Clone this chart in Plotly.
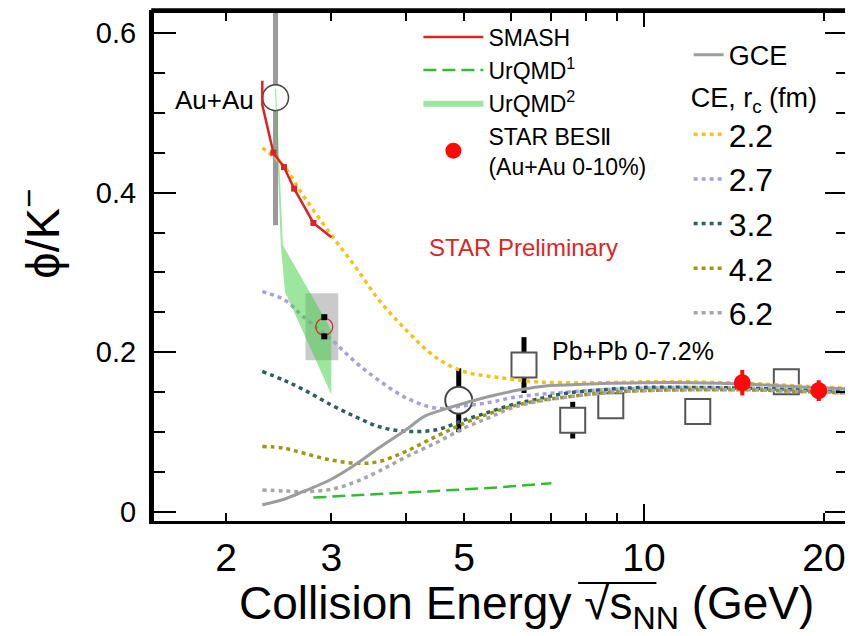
import plotly.graph_objects as go

FONT = "Liberation Sans, Arial, Helvetica, sans-serif"

# ---------------- data ----------------
# SMASH
smash_x = [2.3, 2.3, 2.4, 2.5, 2.6, 2.8, 3.0]
smash_y = [0.54, 0.51, 0.45, 0.432, 0.405, 0.362, 0.344]
smash_mark_x = [2.4, 2.5, 2.6, 2.8]
smash_mark_y = [0.45, 0.432, 0.405, 0.362]

# UrQMD 1 (dashed)
urqmd1_x = [2.8, 3.5, 4.5, 5.5, 7.0]
urqmd1_y = [0.018, 0.022, 0.026, 0.030, 0.036]

# UrQMD 2 (band)
urqmd2_lo_x = [2.415, 2.47, 2.51, 3.0]
urqmd2_lo_y = [0.53, 0.334, 0.276, 0.147]
urqmd2_hi_x = [2.425, 2.49, 3.0]
urqmd2_hi_y = [0.53, 0.334, 0.228]

# STAR BES-II (collider, filled)
star_x = [14.6, 19.6]
star_y = [0.162, 0.152]
star_err = [0.016, 0.013]

# STAR 3 GeV (open, with systematic box)
star3_x = [2.92]
star3_y = [0.232]
star3_err = [0.012]
star3_sys = [0.042]

# HADES Au+Au
hades_x = [2.42]
hades_y = [0.519]
hades_err = [0.16]

# Au+Au open circle
au_x = [4.9]
au_y = [0.140]
au_err = [0.040]

# NA49 Pb+Pb 0-7.2%
na49_x = [6.3, 7.6, 8.8, 12.3, 17.3]
na49_y = [0.184, 0.115, 0.133, 0.126, 0.163]
na49_err = [0.035, 0.023, 0.0145, 0.008, 0.015]

# Thermal model: GCE
gce_x = [2.3, 2.5, 2.7, 3.0, 3.3, 3.6, 4.0, 4.3, 4.7, 5.1, 5.6, 6.2, 6.9, 7.4, 8.5, 10, 12, 15, 18, 22]
gce_y = [0.009, 0.016, 0.026, 0.041, 0.060, 0.080, 0.103, 0.120, 0.130, 0.138, 0.146, 0.153, 0.158, 0.159, 0.161, 0.162, 0.162, 0.160, 0.157, 0.154]

# Thermal model: CE for different r_c
ce_x = [2.3, 2.5, 2.7, 3.0, 3.3, 3.6, 4.0, 4.5, 5.0, 5.5, 6.0, 6.6, 7.4, 8.5, 10, 12, 15, 18, 22]
ce_rc = ["2.2", "2.7", "3.2", "4.2", "6.2"]
ce_22 = [0.456, 0.433, 0.395, 0.347, 0.306, 0.266, 0.228, 0.193, 0.176, 0.170, 0.1665, 0.163, 0.162, 0.162, 0.163, 0.163, 0.161, 0.158, 0.155]
ce_27 = [0.276, 0.266, 0.244, 0.216, 0.187, 0.165, 0.143, 0.130, 0.133, 0.137, 0.143, 0.147, 0.150, 0.153, 0.155, 0.156, 0.155, 0.153, 0.151]
ce_32 = [0.176, 0.165, 0.153, 0.134, 0.119, 0.107, 0.101, 0.103, 0.115, 0.125, 0.134, 0.141, 0.1486, 0.153, 0.156, 0.156, 0.155, 0.153, 0.150]
ce_42 = [0.082, 0.080, 0.0735, 0.065, 0.061, 0.063, 0.076, 0.095, 0.111, 0.123, 0.132, 0.139, 0.144, 0.149, 0.152, 0.153, 0.153, 0.151, 0.149]
ce_62 = [0.0276, 0.0263, 0.0255, 0.0284, 0.038, 0.051, 0.069, 0.087, 0.105, 0.118, 0.130, 0.138, 0.1436, 0.149, 0.152, 0.153, 0.153, 0.151, 0.149]
ce_values = [ce_22, ce_27, ce_32, ce_42, ce_62]
ce_colors = ["#f5c21b", "#a3a3d4", "#2f5f5f", "#9a9a18", "#a6a6a6"]

# axis ticks
x_tickvals = [2, 3, 4, 5, 6, 7, 8, 9, 10, 20]
x_ticktext = ["2", "3", " ", "5", " ", " ", " ", " ", "10", "20"]
x_long_tick = 10
y_tickvals = [0, 0.2, 0.4, 0.6]
y_ticktext = ["0", "0.2", "0.4", "0.6"]

fig = go.Figure()

# --- data with hollow-looking markers (drawn first so curves pass over them) ---
fig.add_trace(go.Scatter(x=hades_x, y=hades_y, mode="markers", showlegend=False,
                         marker=dict(symbol="circle", size=26, color="white",
                                     line=dict(color="#444444", width=1.5)),
                         error_y=dict(type="data", array=hades_err, color="#9a9a9a",
                                      thickness=5, width=0)))
fig.add_trace(go.Scatter(x=au_x, y=au_y, mode="markers", showlegend=False,
                         marker=dict(symbol="circle", size=27, color="white",
                                     line=dict(color="#444444", width=2)),
                         error_y=dict(type="data", array=au_err, color="black",
                                      thickness=5, width=0)))
fig.add_trace(go.Scatter(x=na49_x, y=na49_y, mode="markers", showlegend=False,
                         marker=dict(symbol="square", size=25, color="white",
                                     line=dict(color="#555555", width=2)),
                         error_y=dict(type="data", array=na49_err, color="black",
                                      thickness=5, width=0)))

# systematic box of STAR 3 GeV
bx, by = [], []
for xc, yc, s in zip(star3_x, star3_y, star3_sys):
    bx += [xc / 1.075, xc * 1.055, xc * 1.055, xc / 1.075, xc / 1.075]
    by += [yc - s, yc - s, yc + s, yc + s, yc - s]
fig.add_trace(go.Scatter(x=bx, y=by, mode="lines", fill="toself",
                         fillcolor="rgba(150,150,150,0.5)", line=dict(width=0),
                         showlegend=False, hoverinfo="skip"))

# CE lines
for rc, vals, col in zip(ce_rc, ce_values, ce_colors):
    fig.add_trace(go.Scatter(x=ce_x, y=vals, mode="lines", name=rc,
                             line=dict(color=col, width=3.5, dash="4px,4px", shape="spline"),
                             legend="legend3"))

# GCE
fig.add_trace(go.Scatter(x=gce_x, y=gce_y, mode="lines", name="GCE",
                         line=dict(color="#9c9c9c", width=3, shape="spline"),
                         legend="legend2"))

# UrQMD 1
fig.add_trace(go.Scatter(x=urqmd1_x, y=urqmd1_y, mode="lines", name="UrQMD<sup>1</sup>",
                         line=dict(color="#33bb33", width=2.5, dash="13px,6px"),
                         legend="legend", legendrank=2))

# UrQMD 2 band
band_x = urqmd2_lo_x + urqmd2_hi_x[::-1]
band_y = urqmd2_lo_y + urqmd2_hi_y[::-1]
fig.add_trace(go.Scatter(x=band_x, y=band_y, mode="lines", fill="toself",
                         fillcolor="rgba(60,205,60,0.5)", line=dict(width=0),
                         name="UrQMD<sup>2</sup>", legend="legend", legendrank=3))

# SMASH
fig.add_trace(go.Scatter(x=smash_x, y=smash_y, mode="lines", name="SMASH",
                         line=dict(color="#dd2222", width=2.5),
                         legend="legend", legendrank=1))
fig.add_trace(go.Scatter(x=smash_mark_x, y=smash_mark_y, mode="markers", showlegend=False,
                         marker=dict(size=6, color="#dd2222", symbol="square")))

# STAR 3 GeV
fig.add_trace(go.Scatter(x=star3_x, y=star3_y, mode="markers", showlegend=False,
                         marker=dict(symbol="circle-open", size=17, color="#e02020",
                                     line=dict(width=1.2))))
cap_x, cap_y = [], []
for xc, yc, e in zip(star3_x, star3_y, star3_err):
    cap_x += [xc, xc]
    cap_y += [yc - e, yc + e]
fig.add_trace(go.Scatter(x=cap_x, y=cap_y, mode="markers", showlegend=False,
                         marker=dict(symbol="square", size=6, color="black")))

# STAR BES-II
fig.add_trace(go.Scatter(x=star_x, y=star_y, mode="markers",
                         name="STAR BESⅡ<br>(Au+Au 0-10%)",
                         marker=dict(symbol="circle", size=17, color="#ff0a0a"),
                         error_y=dict(type="data", array=star_err, color="#ff0a0a",
                                      thickness=4, width=0),
                         legend="legend", legendrank=4))

# The page body has an 8 px default margin: the figure is sized so that
# the plot area lands at x 154..847, y 13..521 of the window.
fig.update_layout(
    width=845, height=628,
    margin=dict(l=146, r=6, t=5, b=115),
    paper_bgcolor="white", plot_bgcolor="white",
    font=dict(family=FONT, color="black"),
    xaxis=dict(type="log", range=[0.1806, 1.3395], showgrid=False, zeroline=False,
               automargin=False, tickangle=0,
               tickmode="array", tickvals=x_tickvals, ticktext=x_ticktext,
               ticks="inside", ticklen=8, tickwidth=2, tickcolor="black",
               tickfont=dict(size=39, family=FONT),
               showline=True, linewidth=3, linecolor="black", mirror="ticks"),
    yaxis=dict(range=[-0.0113, 0.625], showgrid=False, zeroline=False,
               automargin=False,
               tickmode="array", tickvals=y_tickvals, ticktext=y_ticktext,
               ticks="inside", ticklen=22, tickwidth=2, tickcolor="black",
               tickfont=dict(size=29, family=FONT), ticklabelstandoff=7,
               minor=dict(dtick=0.05, ticks="inside", ticklen=11, tickwidth=2,
                          tickcolor="black"),
               showline=True, linewidth=5, linecolor="black", mirror="ticks"),
    legend=dict(x=0.3815, y=0.995, xanchor="left", yanchor="top",
                font=dict(size=23, family=FONT), bgcolor="rgba(0,0,0,0)",
                traceorder="normal", itemwidth=60),
    legend2=dict(x=0.7715, y=0.965, xanchor="left", yanchor="top",
                 font=dict(size=27, family=FONT), bgcolor="rgba(0,0,0,0)"),
    legend3=dict(x=0.7715, y=0.884, xanchor="left", yanchor="top",
                 font=dict(size=32, family=FONT), bgcolor="rgba(0,0,0,0)",
                 title=dict(text="CE, r<sub>c</sub> (fm)", font=dict(size=27, family=FONT)),
                 traceorder="normal"),
    showlegend=True,
)

# frame lines (top / bottom)
fig.add_shape(type="line", xref="paper", yref="paper", x0=-0.004, x1=1.004,
              y0=1 + 2.5 / 508, y1=1 + 2.5 / 508, line=dict(color="black", width=4.5),
              layer="above")
fig.add_shape(type="line", xref="paper", yref="paper", x0=-0.004, x1=1.004,
              y0=-1.5 / 508, y1=-1.5 / 508, line=dict(color="black", width=3),
              layer="above")
# longer tick at 10 (bottom and top)
fig.add_shape(type="line", xref="x", yref="paper", x0=x_long_tick, x1=x_long_tick,
              y0=0, y1=17 / 508, line=dict(color="black", width=2), layer="above")
fig.add_shape(type="line", xref="x", yref="paper", x0=x_long_tick, x1=x_long_tick,
              y0=1, y1=1 - 14 / 508, line=dict(color="black", width=2), layer="above")
# overline of the square root in the axis title
fig.add_shape(type="line", xref="paper", yref="paper", x0=0.612, x1=0.725,
              y0=-0.122, y1=-0.122, line=dict(color="black", width=2))

annotations = [
    dict(text="Au+Au", x=0.088, y=0.829, font=dict(size=26)),
    dict(text="STAR Preliminary", x=0.5325, y=0.539, font=dict(size=24, color="#e02424")),
    dict(text="Pb+Pb 0-7.2%", x=0.691, y=0.3346, font=dict(size=25)),
    dict(text="ϕ/K<sup>−</sup>", x=-0.165, y=0.565, textangle=-90, font=dict(size=47)),
    dict(text="Collision Energy √s<sub>NN</sub> (GeV)",
         x=0.537, y=-0.169, font=dict(size=46)),
]
for a in annotations:
    a.update(xref="paper", yref="paper", showarrow=False, xanchor="center", yanchor="middle")
    a["font"].setdefault("family", FONT)
    a["font"].setdefault("color", "black")
    fig.add_annotation(**a)

fig.write_html("out.html")
